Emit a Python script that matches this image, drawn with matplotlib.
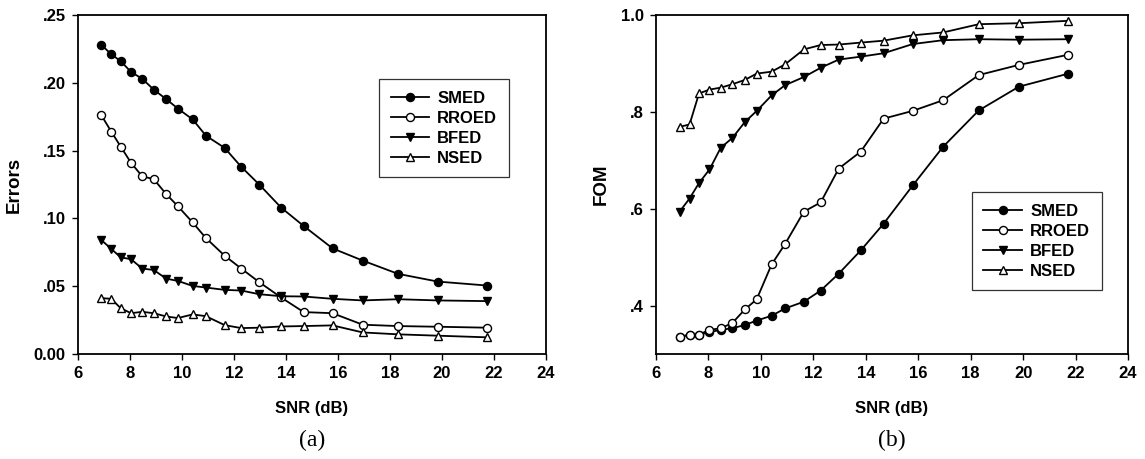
import numpy as np
import matplotlib.pyplot as plt

plt.rcParams['font.family'] = ['Liberation Sans', 'DejaVu Sans']
plt.rcParams['font.weight'] = 'bold'

# SNR values (dB), shared by every series
snr = [6.9, 7.28, 7.64, 8.04, 8.47, 8.91, 9.39, 9.84, 10.41, 10.92,
       11.64, 12.28, 12.97, 13.81, 14.68, 15.79, 16.95, 18.31, 19.84, 21.73]

# (a) Errors
err_smed = [0.228, 0.221, 0.216, 0.208, 0.203, 0.195, 0.188, 0.181, 0.173, 0.161,
            0.152, 0.138, 0.125, 0.108, 0.0944, 0.0779, 0.0689, 0.0591, 0.0534, 0.0505]
err_rroed = [0.176, 0.164, 0.153, 0.141, 0.131, 0.129, 0.118, 0.109, 0.097, 0.0855,
             0.0725, 0.063, 0.053, 0.0417, 0.0309, 0.0301, 0.0216, 0.0206, 0.0201, 0.0194]
err_bfed = [0.084, 0.0775, 0.0713, 0.0699, 0.063, 0.062, 0.0556, 0.0539, 0.0502, 0.049,
            0.0473, 0.0468, 0.0441, 0.0426, 0.0424, 0.0407, 0.0395, 0.0404, 0.0395, 0.039]
err_nsed = [0.0412, 0.0407, 0.0338, 0.0301, 0.0311, 0.0301, 0.0277, 0.0265, 0.0292, 0.0279,
            0.0213, 0.0191, 0.0194, 0.0203, 0.0206, 0.0211, 0.0159, 0.0145, 0.0135, 0.0123]

# (b) FOM
fom_smed = [0.335, 0.340, 0.340, 0.345, 0.350, 0.353, 0.360, 0.369, 0.379, 0.394,
            0.408, 0.431, 0.466, 0.514, 0.569, 0.648, 0.728, 0.803, 0.852, 0.879]
fom_rroed = [0.335, 0.340, 0.340, 0.350, 0.353, 0.364, 0.392, 0.413, 0.485, 0.527,
             0.594, 0.613, 0.683, 0.718, 0.786, 0.802, 0.824, 0.876, 0.897, 0.918]
fom_bfed = [0.594, 0.621, 0.653, 0.681, 0.726, 0.746, 0.779, 0.802, 0.834, 0.855,
            0.872, 0.891, 0.908, 0.914, 0.921, 0.940, 0.948, 0.950, 0.949, 0.950]
fom_nsed = [0.769, 0.774, 0.838, 0.846, 0.850, 0.857, 0.866, 0.879, 0.883, 0.898,
            0.929, 0.938, 0.939, 0.943, 0.947, 0.958, 0.964, 0.981, 0.983, 0.988]

labels = ['SMED', 'RROED', 'BFED', 'NSED']
markers = ['o', 'o', 'v', '^']
facecolors = ['black', 'white', 'black', 'white']

err_ticks = [0.0, 0.05, 0.10, 0.15, 0.20, 0.25]
err_ticklabels = ['0.00', '.05', '.10', '.15', '.20', '.25']
fom_ticks = [0.4, 0.6, 0.8, 1.0]
fom_ticklabels = ['.4', '.6', '.8', '1.0']
x_ticks = [6, 8, 10, 12, 14, 16, 18, 20, 22, 24]

fig = plt.figure(figsize=(11.45, 4.59), dpi=100)
ax1 = fig.add_axes([78 / 1145, 1 - 354 / 459, 468 / 1145, 339 / 459])
ax2 = fig.add_axes([656 / 1145, 1 - 354 / 459, 472 / 1145, 339 / 459])


def draw(ax, series, ylim, yticks, yticklabels, ylabel, tag, legend_anchor):
    for ys, lab, m, fc in zip(series, labels, markers, facecolors):
        ax.plot(snr, ys, color='black', lw=1.3, marker=m, ms=5.8,
                mfc=fc, mec='black', mew=1.0, label=lab)
    ax.set_xlim(6, 24)
    ax.set_ylim(*ylim)
    ax.set_xticks(x_ticks)
    ax.set_yticks(yticks)
    ax.set_yticklabels(yticklabels)
    ax.tick_params(direction='out', length=4, width=1.0, labelsize=12,
                   top=False, right=False, pad=5)
    for s in ax.spines.values():
        s.set_linewidth(1.3)
    ax.set_ylabel(ylabel, fontsize=13.5, fontweight='bold', labelpad=8)
    ax.set_xlabel('SNR (dB)', fontsize=12, fontweight='bold', labelpad=14)
    ax.text(0.5, -0.254, tag, transform=ax.transAxes, ha='center', va='center',
            fontsize=17, fontweight='normal', family='Liberation Serif')
    leg = ax.legend(loc='upper left', bbox_to_anchor=legend_anchor,
                    borderaxespad=0, frameon=True, fancybox=False,
                    edgecolor='black', handlelength=2.3, handletextpad=0.5,
                    labelspacing=0.3, borderpad=0.7,
                    prop={'weight': 'bold', 'size': 12})
    leg.get_frame().set_linewidth(0.9)


draw(ax1, [err_smed, err_rroed, err_bfed, err_nsed], (0, 0.25),
     err_ticks, err_ticklabels, 'Errors', '(a)', (0.643, 0.811))
draw(ax2, [fom_smed, fom_rroed, fom_bfed, fom_nsed], (0.3, 1.0),
     fom_ticks, fom_ticklabels, 'FOM', '(b)', (0.669, 0.478))

fig.savefig('out.png', dpi=100)
